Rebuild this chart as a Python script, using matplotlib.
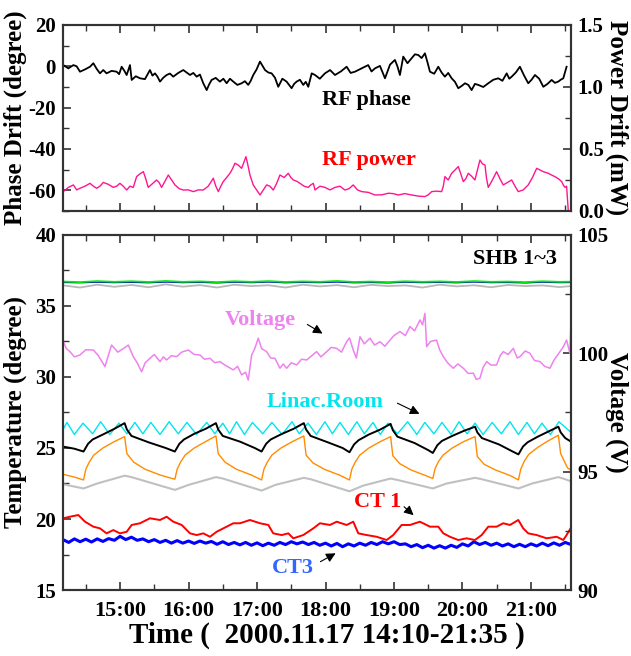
import numpy as np
import matplotlib
matplotlib.use('Agg')
import matplotlib.pyplot as plt
from matplotlib.ticker import MultipleLocator, FormatStrFormatter

plt.rcParams['font.family'] = ['Liberation Serif', 'DejaVu Serif']
plt.rcParams['font.weight'] = 'bold'
plt.rcParams['axes.unicode_minus'] = False

# time axis: minutes after 14:10
hour_ticks = [50, 110, 170, 230, 290, 350, 410]
hour_labels = ['15:00', '16:00', '17:00', '18:00', '19:00', '20:00', '21:00']
half_ticks = [20, 80, 140, 200, 260, 320, 380, 440]

# ---- top panel: RF phase (degree) and RF power (mW)
phase_t = [0.3, 9.1, 14.9, 23.7, 26.6, 32.4, 38.2, 47.0, 51.4, 55.8, 58.7, 60.2, 67.5, 76.2, 80.6, 85.0,
           90.8, 96.6, 105.4, 111.3, 117.1, 122.9, 125.9, 130.2, 137.5, 143.4, 149.2, 156.5, 162.3, 166.7,
           172.6, 177.0, 182.8, 188.6, 195.9, 200.3, 204.7, 210.5, 214.9, 217.9, 220.8, 229.5, 238.3, 248.5,
           255.8, 267.4, 273.3, 282.1, 290.8, 295.2, 298.1, 305.4, 311.2, 317.1, 321.5, 328.8, 334.6, 340.5,
           346.3, 352.2, 358.0, 363.8, 372.6, 381.4, 388.7, 393.1, 400.3, 407.6, 413.5, 420.8, 428.1, 433.9,
           438.3, 441.2]
phase_v = [0.6, 0.6, -2.6, -0.2, 1.5, -3.4, -3.4, -2.6, -0.2, -4.2, 0.6, -6.6, -5.8, -1.8, -3.4, -7.4,
           -4.2, -5.0, -1.8, -4.2, -5.0, -8.2, -11.5, -6.6, -7.4, -8.2, -7.4, -8.2, -9.0, -4.2,
           2.3, -1.8, -3.4, -9.9, -7.4, -10.6, -7.4, -9.0, -9.9, -3.4, -4.2, -3.4, -4.2, -0.2,
           -2.6, 0.6, -1.0, -5.8, 3.1, -4.2, 4.7, 3.9, 5.5, 6.3, -2.6, -0.2, -5.0, -5.8,
           -10.6, -8.2, -11.5, -9.0, -8.2, -5.8, -3.4, -5.0, -0.2, -8.2, -4.2, -9.9, -6.6, -7.4,
           -5.8, -0.2]
# in-between wiggles of the phase trace
phase_t2 = [4.7, 12, 19.3, 29.5, 35.3, 42.6, 49.2, 53.6, 63.8, 71.8, 78.4, 82.8, 87.9, 93.7, 101, 108.3,
            114.2, 120, 128, 133.8, 140.5, 146.3, 152.8, 159.4, 164.5, 169.6, 174.8, 179.9, 185.7, 192.2,
            198.1, 202.5, 207.6, 212.7, 225, 234, 243.4, 252, 261.6, 270.3, 277.7, 286.5, 293, 301.8, 308.3,
            314.2, 319.3, 325.2, 331.7, 337.5, 343.4, 349.3, 355.1, 360.9, 368.2, 377, 385, 391, 396.7, 404,
            410.5, 417.2, 424.5, 431, 436]
phase_v2 = [-1.0, 0.0, -1.5, -1.2, -1.8, -2.2, -3.8, -2.0, -4.8, -6.2, -4.5, -5.0, -5.5, -3.5, -3.2, -3.0,
            -3.2, -4.0, -8.8, -5.6, -6.0, -6.0, -9.0, -7.2, -7.0, -1.5, 0.3, -3.0, -5.5, -6.0,
            -9.0, -8.5, -6.5, -7.5, -6.0, -1.8, -2.5, -3.2, -1.0, -2.5, 0.2, 0.8, 0.0, 1.5, 5.8,
            4.0, 2.0, -3.6, -3.0, -3.2, -7.5, -9.5, -9.0, -8.5, -10.0, -6.5, -7.0, -6.0, -3.0, -4.5,
            -6.5, -6.0, -8.5, -8.0, -6.5]

power_t = [0.3, 9.1, 14.9, 23.7, 29.5, 35.3, 44.1, 49.9, 55.8, 61.6, 64.5, 70.4, 74.7, 82.0, 86.4, 92.3,
           98.1, 105.4, 114.2, 122.9, 131.7, 136.1, 140.4, 146.3, 150.7, 156.5, 160.3, 163.8, 169.7, 172.6,
           178.4, 184.2, 190.1, 197.4, 201.8, 207.6, 214.9, 219.3, 220.8, 229.5, 238.3, 247.0, 254.3, 261.7,
           273.3, 285.0, 293.7, 305.4, 317.1, 323.0, 331.7, 334.6, 340.5, 346.3, 350.7, 355.1, 360.9, 365.3,
           369.7, 372.6, 379.9, 385.7, 393.1, 398.9, 407.6, 415.0, 420.8, 425.1, 431.0, 436.9, 439.8, 441.2,
           442.7]
power_v = [0.156, 0.21, 0.183, 0.223, 0.183, 0.23, 0.19, 0.223, 0.169, 0.19, 0.277, 0.317, 0.19, 0.25, 0.19, 0.29,
           0.21, 0.169, 0.156, 0.169, 0.264, 0.156, 0.237, 0.304, 0.385, 0.344, 0.438, 0.29, 0.169, 0.129,
           0.21, 0.169, 0.29, 0.304, 0.25, 0.223, 0.19, 0.223, 0.169, 0.19, 0.19, 0.169, 0.21, 0.156,
           0.129, 0.143, 0.129, 0.129, 0.116, 0.156, 0.156, 0.277, 0.304, 0.358, 0.237, 0.304, 0.25, 0.411,
           0.371, 0.19, 0.317, 0.21, 0.25, 0.156, 0.21, 0.344, 0.317, 0.304, 0.277, 0.237, 0.19, 0.2,
           0.0]
power_t2 = [4.7, 12, 19.3, 26.6, 32.4, 39.7, 47, 52.8, 58.7, 67.5, 72.5, 78.4, 84.2, 89.4, 95.2, 101.8,
            109.8, 118.6, 127.3, 133.9, 138.3, 143.4, 148.5, 153.6, 158.4, 162, 166.7, 171.1, 175.5, 181.3,
            187.1, 193.7, 199.6, 204.7, 211.2, 217.1, 225.1, 233.9, 242.6, 250.6, 258, 267.5, 279.1, 289.3,
            299.5, 311.2, 320, 327.3, 333.2, 337.5, 343.4, 348.5, 352.9, 358, 363.1, 367.5, 371.1, 376.2,
            382.8, 389.4, 396, 403.2, 411.3, 417.9, 423, 428, 434, 438.3]
power_v2 = [0.19, 0.17, 0.2, 0.2, 0.2, 0.215, 0.2, 0.2, 0.2, 0.3, 0.26, 0.22, 0.23, 0.24, 0.25, 0.18,
            0.17, 0.17, 0.2, 0.2, 0.2, 0.27, 0.34, 0.37, 0.39, 0.37, 0.21, 0.15, 0.17, 0.2,
            0.22, 0.27, 0.27, 0.24, 0.2, 0.21, 0.2, 0.17, 0.2, 0.18, 0.17, 0.15, 0.13, 0.14,
            0.14, 0.12, 0.13, 0.16, 0.2, 0.25, 0.33, 0.3, 0.26, 0.28, 0.33, 0.38, 0.26, 0.25,
            0.26, 0.23, 0.2, 0.17, 0.27, 0.33, 0.31, 0.29, 0.26, 0.21]

# ---- bottom panel: temperatures (degree) and voltage (V)
shb_t = np.arange(0, 451, 15)
shb1 = [36.72, 36.68, 36.75, 36.7, 36.74, 36.69, 36.76, 36.7, 36.73, 36.68, 36.74, 36.7, 36.75, 36.69, 36.73, 36.7,
        36.76, 36.69, 36.72, 36.68, 36.74, 36.7, 36.73, 36.69, 36.75, 36.7, 36.72, 36.68, 36.74, 36.7, 36.72]
shb2 = [36.66, 36.64, 36.68, 36.65, 36.67, 36.64, 36.69, 36.65, 36.67, 36.63, 36.68, 36.65, 36.69, 36.64, 36.67, 36.65,
        36.69, 36.64, 36.66, 36.63, 36.68, 36.65, 36.67, 36.64, 36.69, 36.65, 36.66, 36.63, 36.68, 36.65, 36.66]
shb3 = [36.45, 36.3, 36.5, 36.35, 36.48, 36.32, 36.52, 36.36, 36.47, 36.3, 36.5, 36.4, 36.46, 36.3, 36.5, 36.38,
        36.47, 36.32, 36.49, 36.4, 36.45, 36.3, 36.5, 36.38, 36.46, 36.32, 36.48, 36.4, 36.45, 36.33, 36.44]

volt_t = [0.3, 3, 6.1, 10, 14.9, 20, 26.6, 31, 36.8, 40, 42.6, 48, 53, 57.2, 61.6, 65, 68.9, 72, 76.2, 80,
          85.0, 88, 90.8, 95, 99.6, 104, 109.8, 115, 120.0, 124, 128.8, 133, 137.5, 142, 149.2, 153, 156.5,
          160, 162.3, 165.3, 168, 171.1, 174, 178.4, 182, 185.7, 190.1, 193, 195.9, 200, 204.7, 209, 213.5,
          218, 222.2, 226, 231.0, 235, 239.8, 244, 248.5, 251, 254.3, 257, 260.2, 264, 268.9, 273, 277.7,
          282, 286.5, 290, 295.2, 300, 304.0, 308, 312.8, 315, 317.1, 318.6, 322, 327.3, 330, 333.2, 337,
          341.9, 346, 350.7, 355, 359.5, 362, 365.3, 368, 371.2, 375, 379.9, 383, 385.7, 390, 394.5, 398,
          400.3, 405, 409.1, 413, 417.9, 422, 426.6, 430, 435.4, 438, 441.2, 444.1, 445.6]
volt_v = [100.49, 100.2, 100.07, 99.85, 99.93, 100.15, 100.14, 99.9, 99.44, 99.95, 100.35, 100.05, 100.2, 100.35,
          99.86, 99.6, 99.22, 99.6, 99.79, 99.95, 99.65, 99.85, 99.72, 99.9, 99.86, 100.05, 100.14, 99.95, 99.93,
          99.75, 99.79, 99.6, 99.65, 99.5, 99.3, 99.45, 99.09, 99.2, 98.87, 99.93, 100.2, 100.64, 100.2, 100.07,
          99.8, 99.79, 99.37, 99.55, 99.37, 99.6, 99.51, 99.75, 99.72, 99.9, 100.07, 99.85, 100.07, 100.25,
          100.21, 100.05, 100.49, 100.65, 100.14, 99.8, 100.7, 100.4, 100.64, 100.35, 100.49, 100.3, 100.56,
          100.75, 100.92, 100.75, 101.13, 100.95, 101.41, 101.2, 101.69, 100.28, 100.5, 100.56, 100.15, 99.86,
          99.6, 99.37, 99.55, 99.37, 99.15, 99.16, 98.9, 98.95, 99.4, 99.65, 99.5, 99.51, 99.9, 100.07, 99.95,
          100.21, 99.8, 99.86, 100.1, 100.0, 99.7, 99.65, 99.45, 99.37, 99.7, 100.07, 100.25, 100.56, 100.0,
          102.18]

room_t = [0, 3.5, 10, 17.5, 26, 33, 41, 49, 56, 63, 70, 77, 85, 93, 101, 108.6, 117, 126, 133, 140,
          146, 152, 159, 166, 175, 183, 192, 200.6, 207, 214.6, 222, 229.5, 236, 242.7, 250, 257.5, 264,
          271.6, 278, 284.7, 293, 302, 310, 317, 325, 332, 340, 347, 354, 361, 368, 376, 384, 391.6, 399,
          406.5, 413, 419.6, 427, 434.5, 445]
room_v = [26.3, 26.8, 25.95, 26.75, 26.0, 26.85, 25.95, 26.75, 26.0, 26.8, 26.0, 26.8, 25.95, 26.85, 26.0,
          26.8, 25.95, 26.8, 26.0, 26.75, 26.0, 26.85, 25.95, 26.8, 26.0, 26.8, 25.95, 26.85, 26.0, 26.75,
          25.95, 26.85, 26.0, 26.8, 25.95, 26.85, 26.0, 26.8, 25.95, 26.75, 26.0, 26.85, 25.95, 26.8, 26.0,
          26.8, 25.95, 26.85, 26.0, 26.75, 25.95, 26.8, 26.0, 26.85, 25.95, 26.8, 26.0, 26.75, 25.95, 26.85, 26.1]

black_t = [0, 10, 18, 22, 26, 35, 45, 54, 56, 60, 75, 90, 98, 102, 106, 115, 125, 134, 136, 140,
           155, 168, 174, 178, 182, 192, 202, 211, 213, 217, 232, 245, 251, 255, 259, 268, 278, 287, 289, 293,
           308, 320, 324, 328, 332, 341, 351, 361, 363, 367, 382, 394, 399, 403, 407, 416, 425, 434, 436, 440, 445]
black_v = [25.1, 24.95, 24.75, 25.3, 25.6, 25.95, 26.35, 26.75, 26.3, 25.85, 25.4, 25.0, 24.75, 25.3, 25.6,
           26.0, 26.35, 26.75, 26.3, 25.85, 25.45, 25.0, 24.75, 25.3, 25.6, 26.0, 26.35, 26.75, 26.3, 25.85,
           25.4, 25.0, 24.7, 25.25, 25.55, 25.95, 26.3, 26.7, 26.25, 25.8, 25.35, 24.85, 24.65, 25.2, 25.5,
           25.85, 26.2, 26.5, 26.1, 25.7, 25.25, 24.75, 24.55, 25.1, 25.4, 25.8, 26.15, 26.5, 26.1, 25.7, 25.45]

orange_t = [0, 10, 18, 20, 23, 27, 35, 45, 54, 56, 62, 72, 85, 98, 100, 103, 107, 115, 125, 134, 136, 142,
            152, 165, 174, 176, 179, 183, 191, 201, 211, 213, 219, 229, 242, 251, 253, 256, 260, 268, 278, 287,
            289, 295, 305, 318, 324, 326, 329, 333, 341, 351, 361, 363, 369, 379, 392, 399, 401, 404, 408, 416,
            425, 434, 436, 442, 445]
orange_v = [23.15, 22.95, 22.75, 23.5, 24.0, 24.5, 25.0, 25.45, 25.8, 24.6, 24.0, 23.5, 23.1,
            22.8, 23.5, 24.0, 24.5, 25.0, 25.45, 25.85, 24.6, 24.0, 23.5, 23.1,
            22.75, 23.5, 24.0, 24.5, 25.0, 25.45, 25.85, 24.5, 23.95, 23.5, 23.1,
            22.75, 23.5, 24.0, 24.5, 25.0, 25.45, 25.8, 24.45, 23.9, 23.45, 23.05,
            22.85, 23.55, 24.05, 24.5, 25.0, 25.45, 25.8, 24.4, 23.85, 23.45, 23.05,
            22.75, 23.5, 24.05, 24.55, 25.05, 25.5, 25.9, 24.6, 23.6, 23.45]

gray_t = [0, 18, 30, 54, 60, 98, 110, 134, 140, 174, 186, 211, 217, 251, 263, 287, 293, 324, 336, 361, 367,
          399, 411, 434, 440, 445]
gray_v = [22.45, 22.15, 22.5, 23.05, 22.95, 22.05, 22.4, 22.95, 22.85, 22.0, 22.4, 22.9, 22.8, 21.95, 22.35,
          22.85, 22.75, 22.15, 22.5, 22.9, 22.8, 22.15, 22.5, 22.95, 22.8, 22.65]

ct1_t = [0.3, 6.1, 13.4, 19.3, 26.6, 32.4, 38.2, 44.1, 49.9, 55.8, 60.2, 67.5, 76.2, 85.0, 90.8, 96.6, 104.0,
         111.3, 117.1, 122.9, 128.8, 134.6, 143.4, 149.2, 155.1, 163.8, 172.6, 179.9, 184.2, 191.6, 197.4,
         201.8, 210.5, 219.3, 225.1, 233.9, 239.8, 248.5, 254.3, 258.7, 266.0, 274.8, 283.6, 289.3, 296.7,
         304.0, 312.7, 321.5, 328.8, 333.2, 339.0, 346.3, 353.6, 360.9, 366.8, 372.6, 379.9, 385.7, 391.6,
         398.9, 403.2, 407.6, 415.0, 423.7, 432.5, 438.3, 441.2, 445.6]
ct1_v = [20.05, 20.16, 20.28, 19.81, 19.46, 19.34, 18.99, 19.22, 18.99, 19.1, 19.58, 19.7, 20.05, 19.93, 20.16,
         19.81, 19.58, 18.99, 18.87, 18.99, 18.75, 19.1, 19.46, 19.7, 19.7, 19.93, 19.7, 19.58, 18.99, 18.87,
         18.99, 18.64, 18.87, 19.34, 19.7, 19.58, 19.81, 19.58, 19.81, 18.99, 18.87, 18.75, 18.52, 18.87, 19.58,
         19.58, 19.81, 19.46, 19.46, 18.99, 18.75, 18.52, 18.64, 18.52, 18.87, 19.46, 19.46, 19.7, 19.58,
         19.93, 19.34, 18.99, 18.87, 18.64, 18.75, 18.52, 18.87, 19.46]

ct3_t = np.arange(0, 446, 5)
ct3_v = [18.55, 18.35, 18.6, 18.4, 18.58, 18.38, 18.6, 18.42, 18.62, 18.5, 18.78, 18.55, 18.72, 18.5, 18.6,
         18.4, 18.55, 18.35, 18.5, 18.3, 18.48, 18.3, 18.45, 18.28, 18.45, 18.3, 18.42, 18.22, 18.4, 18.2,
         18.35, 18.18, 18.35, 18.15, 18.32, 18.12, 18.3, 18.15, 18.35, 18.2, 18.4, 18.25, 18.38, 18.2, 18.35,
         18.15, 18.3, 18.1, 18.28, 18.05, 18.25, 18.1, 18.3, 18.15, 18.35, 18.2, 18.4, 18.25, 18.4, 18.2,
         18.25, 18.05, 18.2, 17.98, 18.15, 17.95, 18.12, 17.95, 18.15, 18.0, 18.25, 18.1, 18.4, 18.2, 18.35,
         18.15, 18.3, 18.1, 18.25, 18.05, 18.22, 18.05, 18.25, 18.1, 18.3, 18.12, 18.32, 18.15, 18.35, 18.2]


def merged(t1, v1, t2, v2):
    t = np.concatenate([t1, t2])
    v = np.concatenate([v1, v2])
    order = np.argsort(t)
    return t[order], v[order]


fig = plt.figure(figsize=(6.31, 6.56), dpi=100)
ax1 = fig.add_axes([0.0998, 0.6784, 0.805, 0.2835])
ax2 = ax1.twinx()
ax3 = fig.add_axes([0.0998, 0.1006, 0.805, 0.5412])
ax4 = ax3.twinx()

ax1.plot(*merged(phase_t, phase_v, phase_t2, phase_v2), color='black', lw=1.3)
ax2.plot(*merged(power_t, power_v, power_t2, power_v2), color='#ff1493', lw=1.0)

ax3.plot(shb_t, shb3, color='#b8b8b8', lw=1.3)
ax3.plot(shb_t, shb2, color='#0000cc', lw=1.0)
ax3.plot(shb_t, shb1, color='#00ee00', lw=1.3)
ax3.plot(room_t, room_v, color='#00e5ee', lw=1.0)
ax3.plot(gray_t, gray_v, color='#c0c0c0', lw=1.5)
ax3.plot(orange_t, orange_v, color='#ff8c00', lw=1.0)
ax3.plot(black_t, black_v, color='black', lw=1.4)
ax3.plot(ct3_t, ct3_v, color='#0000ff', lw=2.2)
ax3.plot(ct1_t, ct1_v, color='#ff0000', lw=1.4)
ax4.plot(volt_t, volt_v, color='#ee82ee', lw=1.1)

ax1.set_ylim(-70, 20)
ax2.set_ylim(0, 1.5)
ax3.set_ylim(15, 40)
ax4.set_ylim(90, 105)
for a in (ax1, ax2, ax3, ax4):
    a.set_xlim(0, 445)

ax1.yaxis.set_major_locator(MultipleLocator(20))
ax1.yaxis.set_minor_locator(MultipleLocator(10))
ax2.yaxis.set_major_locator(MultipleLocator(0.5))
ax2.yaxis.set_minor_locator(MultipleLocator(0.25))
ax2.yaxis.set_major_formatter(FormatStrFormatter('%.1f'))
ax3.yaxis.set_major_locator(MultipleLocator(5))
ax3.yaxis.set_minor_locator(MultipleLocator(2.5))
ax4.yaxis.set_major_locator(MultipleLocator(5))
ax4.yaxis.set_minor_locator(MultipleLocator(2.5))

for a in (ax1, ax3):
    a.set_xticks(hour_ticks)
    a.set_xticks(half_ticks, minor=True)
    a.tick_params(axis='both', which='both', direction='in', top=True, right=False,
                  labelsize=15, pad=5, color='#333333')
    a.tick_params(which='major', length=6, width=1.2)
    a.tick_params(which='minor', length=4, width=1.0)
for a in (ax2, ax4):
    a.tick_params(axis='y', which='both', direction='in', labelsize=15, pad=5, color='#333333')
    a.tick_params(which='major', length=6, width=1.2)
    a.tick_params(which='minor', length=4, width=1.0)
ax1.set_xticklabels([])
ax3.set_xticklabels(hour_labels)
ax3.tick_params(axis='x', pad=8, labelsize=16)

for a in (ax1, ax2, ax3, ax4):
    for s in a.spines.values():
        s.set_linewidth(1.5)
        s.set_color('#333333')

ax1.set_ylabel('Phase Drift (degree)', fontsize=18, fontweight='bold', va='center')
ax1.yaxis.set_label_coords(-0.093, 0.5)
ax2.set_ylabel('Power Drift (mW)', fontsize=18, fontweight='bold', rotation=270, va='center')
ax2.yaxis.set_label_coords(1.09, 0.5)
ax3.set_ylabel('Temperature (degree)', fontsize=18, fontweight='bold', va='center')
ax3.yaxis.set_label_coords(-0.093, 0.5)
ax4.set_ylabel('Voltage (V)', fontsize=18, fontweight='bold', rotation=270, va='center')
ax4.yaxis.set_label_coords(1.09, 0.5)

fig.text(0.518, 1 - 635 / 656, 'Time (  2000.11.17 14:10-21:35 )', fontsize=21,
         fontweight='bold', ha='center', va='center')

ax1.text(266, -16.3, 'RF phase', fontsize=16, color='black', ha='center', va='center')
ax1.text(268, -45.3, 'RF power', fontsize=16, color='#ff0000', ha='center', va='center')

ax3.text(396, 38.3, 'SHB 1~3', fontsize=16, color='black', ha='center', va='center')
ax3.text(172.6, 34.0, 'Voltage', fontsize=16, color='#ee82ee', ha='center', va='center')
ax3.text(230, 28.24, 'Linac.Room', fontsize=16, color='#00e5ee', ha='center', va='center')
ax3.text(275.5, 21.2, 'CT 1', fontsize=16, color='#ff0000', ha='center', va='center')
ax3.text(201.5, 16.55, 'CT3', fontsize=16, color='#3366ff', ha='center', va='center')

arrow = dict(arrowstyle='-|>', color='black', lw=0.8, mutation_scale=14)
ax3.annotate('', xy=(229.5, 32.96), xytext=(212, 33.8), arrowprops=arrow)
ax3.annotate('', xy=(314.5, 27.32), xytext=(290.8, 28.24), arrowprops=arrow)
ax3.annotate('', xy=(309, 20.14), xytext=(297, 20.99), arrowprops=arrow)
ax3.annotate('', xy=(241, 17.68), xytext=(223.4, 16.9), arrowprops=arrow)

fig.savefig('out.png', dpi=100)
